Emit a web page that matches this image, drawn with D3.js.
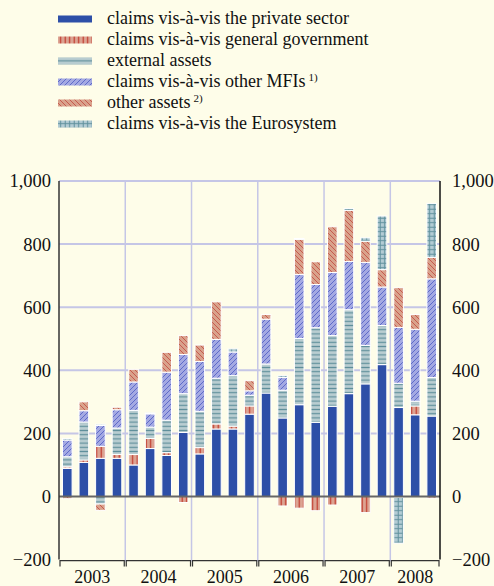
<!DOCTYPE html>
<html>
<head>
<meta charset="utf-8">
<script src="https://cdn.jsdelivr.net/npm/d3@7"></script>
<style>
  body { margin: 0; background: #fefde9; }
  svg { display: block; }
</style>
</head>
<body>
<div id="chart"></div>
<script>
/** Chart data: quarterly flows, EUR billions */
var years = ["2003", "2004", "2005", "2006", "2007", "2008"];
var quartersPerYear = [4, 4, 4, 4, 4, 3];
var yTicks = [-200, 0, 200, 400, 600, 800, 1000];

var privateSector = [89, 108, 121, 121, 100, 152, 130, 203, 135, 214, 214, 261, 328, 249, 291, 235, 286, 326, 357, 418, 282, 259, 255];
var generalGov    = [5, 8, 38, 12, 33, 32, 9, -19, 20, 16, 9, 26, -3, -30, -37, -45, -27, -4, -51, -3, -3, 28, -5];
var externalAssets = [32, 120, -24, 84, 140, 36, 103, 123, 115, 145, 160, 34, 92, 88, 210, 300, 224, 266, 122, 124, 77, 15, 122];
var otherMFIs     = [53, 36, 66, 58, 90, 42, 152, 124, 158, 123, 75, 14, 142, 40, 203, 137, 200, 153, 263, 122, 177, 228, 313];
var otherAssets   = [-7, 28, -20, 8, 40, 0, 63, 60, 52, 119, 0, 32, 15, 0, 111, 72, 145, 162, 67, 55, 126, 47, 68];
var eurosystem    = [5, 0, 4, 0, -3, 3, 0, 0, 0, 0, 10, 0, 0, 6, 3, 0, 0, 6, 11, 170, -145, 0, 171];

var seriesKeys = ["private", "gov", "external", "mfis", "other", "euro"];
var seriesLabels = [
  ["claims vis-à-vis the private sector", ""],
  ["claims vis-à-vis general government", ""],
  ["external assets", ""],
  ["claims vis-à-vis other MFIs", "1)"],
  ["other assets", "2)"],
  ["claims vis-à-vis the Eurosystem", ""]
];

var FONT = "'Liberation Serif'";
var width = 494, height = 586;
var margin = { left: 59, right: 54, top: 181, bottom: 26 };

/** Build quarter list and table for the stack */
var quarters = [];
years.forEach(function(y, i){
  for (var q = 1; q <= quartersPerYear[i]; q++) quarters.push(y + "Q" + q);
});
var table = quarters.map(function(q, i){
  return { q: q, private: privateSector[i], gov: generalGov[i], external: externalAssets[i],
           mfis: otherMFIs[i], other: otherAssets[i], euro: eurosystem[i] };
});

var svg = d3.select("#chart").append("svg")
  .attr("width", width)
  .attr("height", height);

/** Patterns for the bar fills */
var defs = svg.append("defs");
function stripePattern(id, bg, fg, w, h, d, sw) {
  var p = defs.append("pattern").attr("id", id)
    .attr("patternUnits", "userSpaceOnUse")
    .attr("width", w).attr("height", h);
  p.append("rect").attr("width", w).attr("height", h).attr("fill", bg);
  d.forEach(function(path){
    p.append("path").attr("d", path).attr("stroke", fg).attr("stroke-width", sw).attr("fill", "none");
  });
}
stripePattern("pGov", "#dca493", "#c0392b", 4.5, 4, ["M2.2,0V4"], 1.2);
stripePattern("pExt", "#b9cdd1", "#5f8f9b", 4, 4.2, ["M0,2.1H4"], 1.2);
stripePattern("pMfi", "#a4a9e2", "#4c5cc4", 5, 5, ["M0,5L5,0", "M-1,1L1,-1", "M4,6L6,4"], 0.8);
stripePattern("pOth", "#d9a28c", "#c2473d", 5, 5, ["M0,0L5,5", "M-1,4L1,6", "M4,-1L6,1"], 0.8);
stripePattern("pEur", "#b3ccd4", "#5f909c", 4.5, 4.5, ["M0,2.2H4.5", "M2.2,0V4.5"], 1);

var fills = {
  private: "#2d4fa7", gov: "url(#pGov)", external: "url(#pExt)",
  mfis: "url(#pMfi)", other: "url(#pOth)", euro: "url(#pEur)"
};

/** Scales */
var x = d3.scaleBand()
  .domain(quarters)
  .range([margin.left, width - margin.right])
  .paddingInner(0.42)
  .paddingOuter(0.21);

var y = d3.scaleLinear()
  .domain([-200, 1000])
  .range([height - margin.bottom - 0.4, margin.top]);

var x0 = margin.left, x1 = width - margin.right;

/** Horizontal grid */
svg.append("g").selectAll("line")
  .data(yTicks.filter(function(d){ return d > 0; }))
  .enter().append("line")
  .attr("x1", x0).attr("x2", x1)
  .attr("y1", function(d){ return y(d); }).attr("y2", function(d){ return y(d); })
  .attr("stroke", "#c5c6e6").attr("stroke-width", 2);

/** Vertical year separators */
var yearStarts = [];
var idx = 0;
quartersPerYear.forEach(function(n){ yearStarts.push(idx); idx += n; });
function bandLeft(i) { return x0 + i * (x1 - x0) / quarters.length; }

svg.append("g").selectAll("line")
  .data(yearStarts.slice(1))
  .enter().append("line")
  .attr("x1", function(d){ return bandLeft(d); }).attr("x2", function(d){ return bandLeft(d); })
  .attr("y1", y(1000)).attr("y2", y(-200) + 2)
  .attr("stroke", "#c5c6e6").attr("stroke-width", 1.5);

/** Stacked bars */
var stack = d3.stack()
  .keys(seriesKeys)
  .offset(d3.stackOffsetDiverging);
var layers = stack(table);

svg.append("g").selectAll("g")
  .data(layers)
  .enter().append("g")
  .attr("fill", function(d){ return fills[d.key]; })
  .selectAll("rect")
  .data(function(d){ return d.filter(function(e){ return e[1] - e[0] !== 0; }); })
  .enter().append("rect")
  .attr("x", function(d){ return x(d.data.q); })
  .attr("width", x.bandwidth())
  .attr("y", function(d){ return y(Math.max(d[0], d[1])); })
  .attr("height", function(d){ return Math.abs(y(d[0]) - y(d[1])); })
  .attr("stroke", "#ffffff")
  .attr("stroke-width", 1);

/** Zero line and axis frame */
svg.append("line")
  .attr("x1", x0).attr("x2", x1)
  .attr("y1", y(0)).attr("y2", y(0))
  .attr("stroke", "#666666").attr("stroke-width", 2);

svg.append("line")
  .attr("x1", x0).attr("x2", x0)
  .attr("y1", y(1000)).attr("y2", y(-200))
  .attr("stroke", "#333333").attr("stroke-width", 1.5);
svg.append("line")
  .attr("x1", x1).attr("x2", x1)
  .attr("y1", y(1000)).attr("y2", y(-200))
  .attr("stroke", "#111111").attr("stroke-width", 1.5);

/** Y axes, left and right */
var fmt = d3.format(",");
var leftAxis = d3.axisLeft(y).tickValues(yTicks).tickSize(0).tickPadding(8).tickFormat(fmt);
var rightAxis = d3.axisRight(y).tickValues(yTicks).tickSize(0).tickPadding(12).tickFormat(fmt);

var gl = svg.append("g").attr("transform", "translate(" + x0 + ",0)").call(leftAxis);
var gr = svg.append("g").attr("transform", "translate(" + x1 + ",0)").call(rightAxis);
[gl, gr].forEach(function(g){
  g.select(".domain").remove();
  g.selectAll("text")
    .style("font-family", FONT)
    .style("font-size", "18.5px")
    .attr("fill", "#111");
});

/** Year brackets and labels */
var yb = y(-200) + 1;
var yearG = svg.append("g");
yearStarts.forEach(function(s, i){
  var a = bandLeft(s) + 1, b = bandLeft(s + quartersPerYear[i]) - 1;
  yearG.append("path")
    .attr("d", "M" + a + "," + (yb + 6) + "V" + yb + "H" + b + "V" + (yb + 6))
    .attr("fill", "none").attr("stroke", "#333").attr("stroke-width", 1.2);
  yearG.append("text")
    .attr("x", (a + b) / 2).attr("y", 583)
    .attr("text-anchor", "middle")
    .style("font-family", FONT)
    .style("font-size", "18px")
    .attr("fill", "#111")
    .text(years[i]);
});

/** Legend */
var legend = svg.append("g");
seriesKeys.forEach(function(k, i){
  var cy = 19 + i * 21;
  legend.append("rect")
    .attr("x", 58).attr("y", cy - 3.5)
    .attr("width", 34).attr("height", 7)
    .attr("fill", fills[k]);
  var t = legend.append("text")
    .attr("x", 107).attr("y", cy + 5)
    .style("font-family", FONT)
    .style("font-size", "18px")
    .attr("fill", "#111");
  t.append("tspan").text(seriesLabels[i][0]);
  if (seriesLabels[i][1]) {
    t.append("tspan").attr("dx", 3).attr("dy", -6).style("font-size", "11px").text(seriesLabels[i][1]);
  }
});
</script>
</body>
</html>
